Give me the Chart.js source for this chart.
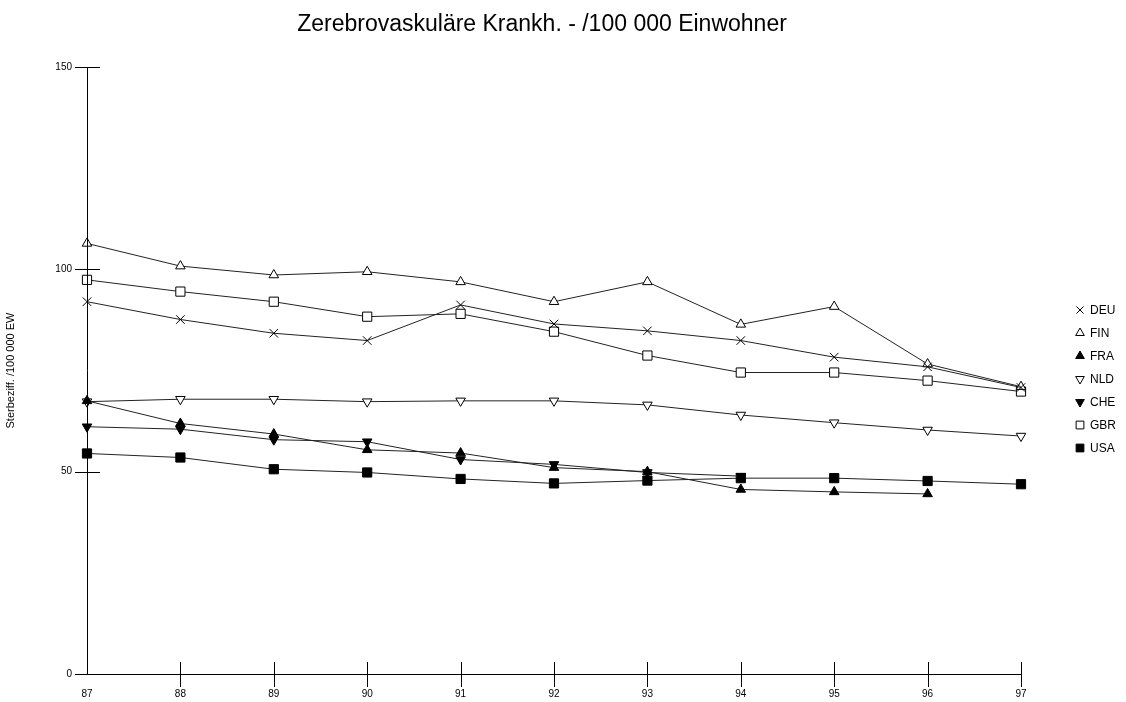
<!DOCTYPE html>
<html>
<head>
<meta charset="utf-8">
<title>Zerebrovaskuläre Krankh.</title>
<script src="https://cdn.jsdelivr.net/npm/chart.js@4.4.1/dist/chart.umd.min.js"></script>
<style>
  html, body { margin: 0; padding: 0; background: #fff; }
  .wrap { width: 1126px; height: 702px; position: relative; }
</style>
</head>
<body>
<div class="wrap"><canvas id="chart1"></canvas></div>

<script>
  // Jahre (x-Achse) und Sterbeziffern je Land
  var years = [87, 88, 89, 90, 91, 92, 93, 94, 95, 96, 97];
  var yTicks = [0, 50, 100, 150];

  var deu = [92.0, 87.6, 84.2, 82.4, 91.2, 86.5, 84.8, 82.4, 78.3, 75.9, 70.8];
  var fin = [106.4, 100.8, 98.6, 99.4, 96.9, 92.0, 96.9, 86.4, 90.8, 76.6, 71.0];
  var fra = [67.5, 61.9, 59.3, 55.4, 54.6, 51.0, 50.0, 45.6, 45.0, 44.5];
  var nld = [67.3, 67.9, 67.9, 67.3, 67.5, 67.5, 66.5, 64.0, 62.1, 60.3, 58.8];
  var che = [61.1, 60.5, 57.9, 57.4, 53.0, 51.8, 49.8, 48.9];
  var gbr = [97.4, 94.5, 92.0, 88.3, 89.0, 84.6, 78.7, 74.5, 74.5, 72.5, 69.8];
  var usa = [54.5, 53.5, 50.6, 49.8, 48.2, 47.1, 47.8, 48.4, 48.4, 47.7, 46.9];

  var title = "Zerebrovaskuläre Krankh. - /100 000 Einwohner";
  var yTitle = "Sterbeziff. /100 000 EW";

  function pts(values) {
    var out = [];
    for (var i = 0; i < values.length; i++) {
      if (values[i] != null) out.push({ x: years[i], y: values[i] });
    }
    return out;
  }

  function series(label, values, style, rot, fill, r) {
    return {
      label: label,
      data: pts(values),
      borderColor: "#222",
      borderWidth: 1,
      pointStyle: style,
      rotation: rot,
      pointRadius: r,
      pointHoverRadius: r,
      pointBorderColor: "#000",
      pointBorderWidth: 1,
      pointBackgroundColor: fill,
      tension: 0,
      fill: false,
      clip: false
    };
  }

  var font = "'Liberation Sans', Arial, sans-serif";

  // Titel, Achsen mit Kreuz-Strichen, Legende
  var framePlugin = {
    id: "frame",
    afterDraw: function (chart) {
      var ctx = chart.ctx;
      var xs = chart.scales.x, ys = chart.scales.y;
      var x0 = xs.getPixelForValue(87), x1 = xs.getPixelForValue(97);
      var y0 = ys.getPixelForValue(0), y1 = ys.getPixelForValue(150);
      ctx.save();
      ctx.strokeStyle = "#000";
      ctx.lineWidth = 1;
      ctx.beginPath();
      ctx.moveTo(x0 + 0.5, y1);
      ctx.lineTo(x0 + 0.5, y0 + 0.5);
      ctx.lineTo(x1, y0 + 0.5);
      yTicks.forEach(function (v) {
        var py = Math.round(ys.getPixelForValue(v)) + 0.5;
        ctx.moveTo(x0 - 12, py);
        ctx.lineTo(x0 + 13, py);
      });
      years.forEach(function (v) {
        if (v === 87) return;
        var px = Math.round(xs.getPixelForValue(v)) + 0.5;
        ctx.moveTo(px, y0 - 12);
        ctx.lineTo(px, y0 + 13);
      });
      ctx.stroke();

      ctx.fillStyle = "#000";
      ctx.font = "23px " + font;
      ctx.textAlign = "center";
      ctx.textBaseline = "alphabetic";
      ctx.fillText(title, 542, 31);

      ctx.font = "12px " + font;
      ctx.textAlign = "left";
      ctx.textBaseline = "middle";
      chart.data.datasets.forEach(function (ds, i) {
        var ly = 310 + i * 23;
        ctx.fillStyle = ds.pointBackgroundColor;
        ctx.strokeStyle = "#000";
        ctx.lineWidth = 1;
        Chart.helpers.drawPoint(ctx, {
          pointStyle: ds.pointStyle, rotation: ds.rotation,
          radius: ds.pointStyle === "rect" ? 5.5 : 5, borderWidth: 1
        }, 1080, ly);
        ctx.fillStyle = "#000";
        ctx.fillText(ds.label, 1090, ly + 1);
      });
      ctx.restore();
    }
  };

  var ctx1 = document.getElementById("chart1");
  var chart1 = new Chart(ctx1, {
    type: "line",
    data: {
      datasets: [
        series("DEU", deu, "crossRot", 0, "#fff", 6),
        series("FIN", fin, "triangle", 0, "#fff", 5.5),
        series("FRA", fra, "triangle", 0, "#000", 5.5),
        series("NLD", nld, "triangle", 180, "#fff", 5.5),
        series("CHE", che, "triangle", 180, "#000", 5.5),
        series("GBR", gbr, "rect", 0, "#fff", 6.5),
        series("USA", usa, "rect", 0, "#000", 6.5)
      ]
    },
    options: {
      responsive: true,
      maintainAspectRatio: false,
      animation: false,
      layout: { padding: { top: 67, right: 105, bottom: 0, left: 0 } },
      plugins: {
        legend: { display: false },
        tooltip: { enabled: false }
      },
      scales: {
        x: {
          type: "linear",
          min: 87,
          max: 97,
          grid: { display: false, drawTicks: false },
          border: { display: false },
          ticks: {
            stepSize: 1,
            padding: 14,
            color: "#000",
            font: { family: font, size: 10 },
            maxRotation: 0,
            callback: function (v) { return v; }
          },
          afterFit: function (s) { s.height = 28; }
        },
        y: {
          min: 0,
          max: 150,
          grid: { display: false, drawTicks: false },
          border: { display: false },
          ticks: {
            stepSize: 50,
            padding: 15,
            color: "#000",
            font: { family: font, size: 10 }
          },
          title: {
            display: true,
            text: yTitle,
            color: "#000",
            font: { family: font, size: 11 },
            padding: { top: 4, bottom: 0 }
          },
          afterFit: function (s) { s.width = 87; }
        }
      }
    },
    plugins: [framePlugin]
  });
</script>
</body>
</html>
